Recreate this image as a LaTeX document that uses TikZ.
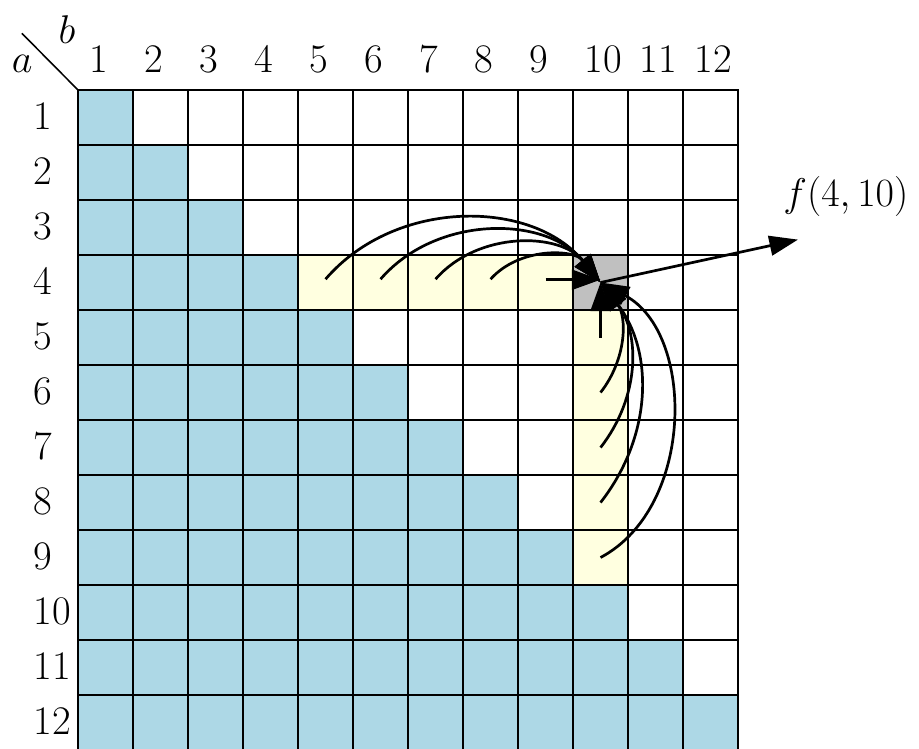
\documentclass[tikz,border=0pt]{standalone}
\usetikzlibrary{arrows.meta}
\definecolor{cblue}{RGB}{173,216,230}
\definecolor{cyel}{RGB}{255,255,224}
\definecolor{cgray}{RGB}{192,192,192}
\begin{document}
\begin{tikzpicture}[x=1cm,y=1cm,
  cell/.style={draw=black, line width=0.8pt, minimum size=1cm, inner sep=0pt, outer sep=0pt},
  lab/.style={font=\fontsize{21}{25}\selectfont, inner sep=0pt},
  arr/.style={line width=1.4pt, -{Triangle[length=0.52cm,width=0.36cm]}}]
\useasboundingbox (-1.418,1.636) rectangle (15.29,-11.98);
\foreach \a in {1,...,12}{
  \foreach \b in {1,...,12}{
    \def\col{white}
    \ifnum\b>\a\relax\else\def\col{cblue}\fi
    \ifnum\a=4 \ifnum\b>4 \ifnum\b<10 \def\col{cyel}\fi\fi\fi
    \ifnum\b=10 \ifnum\a>4 \ifnum\a<10 \def\col{cyel}\fi\fi\fi
    \ifnum\a=4 \ifnum\b=10 \def\col{cgray}\fi\fi
    \node[cell, fill=\col] (c-\a-\b) at (\b-0.5,0.5-\a) {};
  }
}
\foreach \b in {1,...,12}
  \node[lab, anchor=base west] (col-\b) at (\b-0.79, 0.31) {\b};
\foreach \a in {1,...,12}
  \node[lab, anchor=west] (row-\a) at (-0.81, 0.52-\a) {\a};
\coordinate (corner) at (-1.02,1.03);
\draw[line width=0.8pt] (corner) -- (c-1-1.north west);
\node[lab] (alab) at (-1.015,0.47) {$a$};
\node[lab] (blab) at (-0.2,1.09) {$b$};
\foreach \b in {5,6,7,8}
  \draw[arr] ([yshift=0.06cm]c-4-\b.center) to[bend left=50] (c-4-10.center);
\draw[arr] ([yshift=0.05cm]c-4-9.center) -- ([yshift=0.05cm]c-4-10.center);
\draw[arr] (c-5-10.center) -- (c-4-10.center);
\foreach \a in {6,7,8}
  \draw[arr] (c-\a-10.center) to[bend right=38] (c-4-10.center);
\draw[arr] (c-9-10.center) to[bend right=62] (c-4-10.center);
\coordinate (ftip) at (13.09,-2.72);
\draw[arr] (c-4-10.center) -- (ftip);
\node[lab] (flab) at (13.96,-1.94) {$f(4,10)$};
\end{tikzpicture}
\end{document}
